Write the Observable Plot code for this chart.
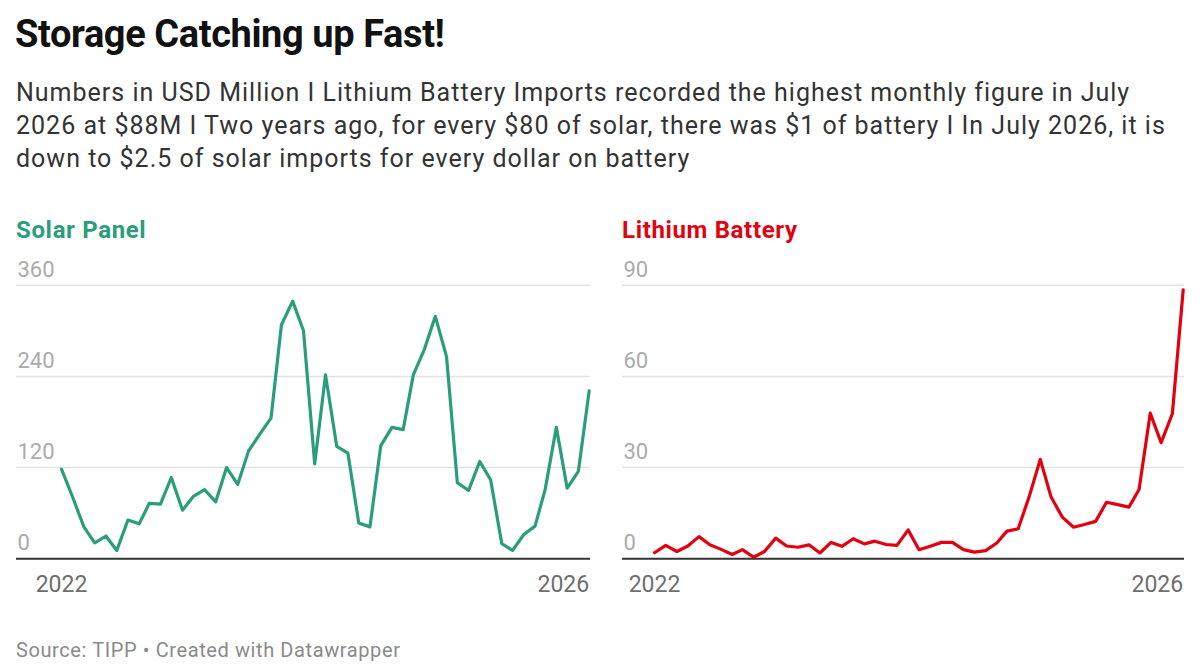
<!DOCTYPE html>
<html><head><meta charset="utf-8">
<script src="https://cdn.jsdelivr.net/npm/d3@7"></script>
<script src="https://cdn.jsdelivr.net/npm/@observablehq/plot@0.6"></script>
<style>
html,body{margin:0;padding:0;background:#fff;}
body{font-family:Roboto,sans-serif;width:1200px;height:671px;position:relative;overflow:hidden;}
.abs{position:absolute;white-space:nowrap;}
#title{left:15px;top:11px;font-size:38px;line-height:46px;font-weight:700;color:#111;letter-spacing:-0.4px;}
#subtitle{left:16px;top:76px;font-size:25px;line-height:33px;color:#333;letter-spacing:1.0px;}
.ptitle{top:216px;font-size:24px;line-height:28px;font-weight:700;letter-spacing:0.65px;}
#source{left:16px;top:637px;font-size:20px;line-height:26px;color:#8a8a8a;letter-spacing:0.6px;}
</style></head><body>
<div id="title" class="abs">Storage Catching up Fast!</div>
<div id="subtitle" class="abs">Numbers in USD Million I Lithium Battery Imports recorded the highest monthly figure in July<br>2026 at $88M I Two years ago, for every $80 of solar, there was $1 of battery I In July 2026, it is<br>down to $2.5 of solar imports for every dollar on battery</div>
<div class="abs ptitle" style="left:16px;color:#2a9d7c;">Solar Panel</div>
<div class="abs ptitle" style="left:622px;color:#e3000f;">Lithium Battery</div>
<div id="left" class="abs" style="left:16px;top:260px;"></div>
<div id="right" class="abs" style="left:622px;top:260px;"></div>
<div id="source" class="abs">Source: TIPP • Created with Datawrapper</div>
<script>
// Months: Jul 2022 .. Jul 2026 (49 monthly points)
const startMonth = new Date(Date.UTC(2022, 6, 1));
const monthCount = 49;

const solarValues = [118, 81, 42, 21, 30, 11, 51, 46, 73, 72, 107, 64, 82, 91, 75, 120, 98, 142, 164, 185, 308, 339, 300, 125,
  242, 148, 139, 47, 42, 149, 173, 170, 242, 276, 319, 266, 100, 90, 128, 104, 20, 11, 32, 43, 91, 173, 93, 115, 221];

const batteryValues = [2.0, 4.4, 2.4, 4.2, 7.3, 4.6, 3.1, 1.4, 3.0, 0.5, 2.4, 6.8, 4.2, 3.8, 4.6, 1.9, 5.4, 4.1, 6.6, 4.9, 5.8, 4.7, 4.4, 9.5,
  3.0, 4.1, 5.4, 5.4, 3.0, 2.2, 2.7, 5.2, 9.1, 9.9, 20.3, 32.7, 20.3, 13.7, 10.4, 11.3, 12.3, 18.6, 17.8, 17.0, 22.8, 47.9, 38.2, 47.7, 88.5];

const solarTicks = [0, 120, 240, 360];
const batteryTicks = [0, 30, 60, 90];
const xTickLabels = ["2022", "2026"];

const months = d3.range(monthCount).map(i => d3.utcMonth.offset(startMonth, i));

function panel(values, yTicks, color, width, x0) {
  const data = months.map((m, i) => ({date: m, value: values[i]}));
  const first = months[0], last = months[months.length - 1];
  const xLab = [{date: first, label: xTickLabels[0]}, {date: last, label: xTickLabels[1]}];
  return Plot.plot({
    width, height: 340,
    marginTop: 24.7, marginBottom: 41.7, marginLeft: 0, marginRight: 0,
    x: {type: "utc", domain: [first, last], range: [x0, width - 1.3], axis: null},
    y: {domain: [0, yTicks[yTicks.length - 1]], axis: null},
    style: {fontFamily: "Roboto, sans-serif", background: "transparent", overflow: "visible"},
    marks: [
      Plot.ruleY(yTicks.slice(1), {stroke: "#e2e2e2", strokeWidth: 1.5}),
      Plot.text(yTicks, {y: d => d, frameAnchor: "left", text: d => String(d), textAnchor: "start", lineAnchor: "bottom", dy: -8.5, dx: 1, fill: "#ababab", fontSize: 22}),
      Plot.ruleY([0], {stroke: "#333", strokeWidth: 2}),
      Plot.line(data, {x: "date", y: "value", stroke: color, strokeWidth: 3.2}),
      Plot.text([xLab[0]], {x: "date", frameAnchor: "bottom", text: "label", textAnchor: "middle", lineAnchor: "bottom", dy: 33, fill: "#6e6e6e", fontSize: 23}),
      Plot.text([xLab[1]], {x: "date", frameAnchor: "bottom", text: "label", textAnchor: "end", lineAnchor: "bottom", dy: 33, dx: 0, fill: "#6e6e6e", fontSize: 23})
    ]
  });
}

document.getElementById("left").appendChild(panel(solarValues, solarTicks, "#2a9d7c", 574, 45));
document.getElementById("right").appendChild(panel(batteryValues, batteryTicks, "#e3000f", 562, 32));
</script>
</body></html>
